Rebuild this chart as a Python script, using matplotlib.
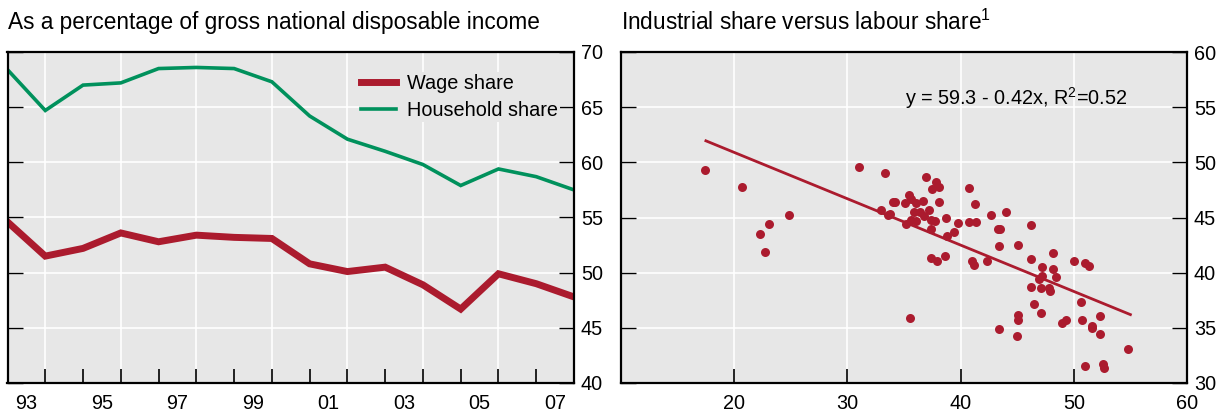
import matplotlib
matplotlib.use("Agg")
import matplotlib.pyplot as plt
import numpy as np

# ---------------- data ----------------
years = [1993, 1994, 1995, 1996, 1997, 1998, 1999, 2000, 2001, 2002, 2003,
         2004, 2005, 2006, 2007, 2008]
wage_share = [54.6, 51.5, 52.2, 53.6, 52.8, 53.4, 53.2, 53.1, 50.8, 50.1,
              50.5, 48.9, 46.7, 49.9, 49.0, 47.8]
household_share = [68.4, 64.7, 67.0, 67.2, 68.5, 68.6, 68.5, 67.3, 64.2,
                   62.1, 61.0, 59.8, 57.9, 59.4, 58.7, 57.5]
year_labels = ["93", "95", "97", "99", "01", "03", "05", "07"]

labour_share = [17.4, 20.7, 22.3, 23.1, 22.7, 24.8, 31.0, 33.3, 33.0, 33.8,
                33.6, 34.0, 34.2, 35.1, 35.4, 35.6, 35.2, 35.6, 35.9, 36.1,
                36.1, 36.4, 36.7, 36.8, 36.9, 37.2, 37.4, 37.7, 37.5, 37.8,
                38.1, 38.1, 37.4, 38.7, 38.8, 39.4, 39.8, 37.4, 37.9, 38.6,
                35.5, 40.7, 40.7, 41.4, 41.3, 42.7, 44.0, 43.3, 43.5, 43.4,
                41.0, 41.2, 42.3, 45.1, 46.2, 46.2, 47.2, 48.2, 48.2, 48.4,
                47.2, 46.9, 46.2, 47.1, 47.8, 47.9, 50.0, 51.0, 51.3, 46.5,
                47.1, 45.1, 45.1, 43.4, 45.0, 49.0, 49.3, 50.6, 50.7, 51.6,
                51.6, 52.3, 52.3, 54.8, 51.0, 52.6, 52.7]
industrial_share = [49.3, 47.8, 43.5, 44.4, 41.9, 45.2, 49.6, 49.0, 45.7, 45.3,
                    45.2, 46.4, 46.4, 46.3, 47.0, 46.7, 44.4, 44.8, 45.5, 46.3,
                    44.7, 45.5, 46.5, 45.1, 48.7, 45.7, 44.8, 44.7, 47.6, 48.2,
                    47.8, 46.4, 44.0, 45.0, 43.3, 43.7, 44.5, 41.3, 41.1, 41.5,
                    35.9, 47.7, 44.6, 44.6, 46.2, 45.2, 45.5, 44.0, 44.0, 42.4,
                    41.1, 40.7, 41.1, 42.5, 44.3, 41.2, 40.5, 41.8, 40.3, 39.6,
                    39.7, 39.4, 38.7, 38.6, 38.6, 38.3, 41.1, 40.9, 40.6, 37.2,
                    36.3, 36.2, 35.7, 34.9, 34.3, 35.4, 35.7, 37.3, 35.7, 35.2,
                    35.0, 36.1, 34.4, 33.1, 31.5, 31.7, 31.4]
fit_intercept = 59.3
fit_slope = -0.42
fit_x_range = [17.5, 55.0]

# ---------------- style ----------------
plt.rcParams['font.family'] = ['Liberation Sans', 'DejaVu Sans']
plt.rcParams['mathtext.fontset'] = 'custom'
plt.rcParams['mathtext.rm'] = 'Liberation Sans'
plt.rcParams['mathtext.it'] = 'Liberation Sans:italic'
plt.rcParams['mathtext.bf'] = 'Liberation Sans:bold'

RED = '#ab1b2e'
GREEN = '#00915c'
BG = '#e7e7e7'
FS = 14.3
TFS = 16.3

W, H = 1219, 412
fig = plt.figure(figsize=(W / 100, H / 100), dpi=100)

ax1 = fig.add_axes([7.5 / W, (H - 383) / H, 566.5 / W, 331 / H])
ax2 = fig.add_axes([621 / W, (H - 383) / H, 566 / W, 331 / H])

for ax in (ax1, ax2):
    ax.set_facecolor(BG)
    for s in ax.spines.values():
        s.set_linewidth(1.6)
        s.set_color('black')
        s.set_zorder(5)
    ax.yaxis.tick_right()
    ax.tick_params(axis='y', which='major', direction='in', left=True,
                   right=True, labelleft=False, labelright=True,
                   length=11, width=1, labelsize=FS, pad=5)
    ax.tick_params(axis='x', which='major', direction='in', bottom=True,
                   top=False, labelsize=FS, length=10, width=1.2, pad=8)

# ---------------- left panel ----------------
ax1.set_xlim(1993, 2008)
ax1.set_ylim(40, 70)
ax1.set_yticks(np.arange(40, 71, 5))
for yv in np.arange(45, 70, 5):
    ax1.axhline(yv, color='white', lw=1.2, zorder=0.5)
for xv in range(1994, 2008, 2):
    ax1.axvline(xv, color='white', lw=1.2, zorder=0.5)
ax1.set_xticks(range(1994, 2008))
ax1.set_xticklabels([])
ax1.set_xticks([int(l) + (1900 if int(l) > 50 else 2000) + 0.5 for l in year_labels],
               minor=True)
ax1.set_xticklabels(year_labels, minor=True)
ax1.tick_params(axis='x', which='minor', length=0, labelsize=FS, pad=8)

ax1.plot(years, wage_share, color=RED, lw=5, solid_joinstyle='miter',
         label='Wage share', zorder=3)
ax1.plot(years, household_share, color=GREEN, lw=2.6, solid_joinstyle='miter',
         label='Household share', zorder=3)
leg = ax1.legend(loc='upper left', bbox_to_anchor=(0.621, 0.94), frameon=True,
                 facecolor=BG, edgecolor='none', framealpha=1, fontsize=FS,
                 handlelength=1.75, handletextpad=0.55, labelspacing=0.4,
                 borderpad=0.1, borderaxespad=0)
leg.get_frame().set_linewidth(0)

# ---------------- right panel ----------------
ax2.set_xlim(10, 60)
ax2.set_ylim(30, 60)
ax2.set_yticks(np.arange(30, 61, 5))
ax2.set_xticks([20, 30, 40, 50, 60])
for yv in np.arange(35, 60, 5):
    ax2.axhline(yv, color='white', lw=1.2, zorder=0.5)
for xv in [20, 30, 40, 50]:
    ax2.axvline(xv, color='white', lw=1.2, zorder=0.5)

ax2.scatter(labour_share, industrial_share, s=42, color=RED, zorder=3,
            linewidths=0)
fx = np.array(fit_x_range)
ax2.plot(fx, fit_intercept + fit_slope * fx, color=RED, lw=2, zorder=2.5)
ax2.text(35.1, 55.8, 'y = 59.3 - 0.42x, R$^{\\mathrm{2}}$=0.52', fontsize=FS,
         ha='left', va='center')

# ---------------- titles ----------------
fig.text(8 / W, (H - 29.5) / H,
         'As a percentage of gross national disposable income',
         fontsize=TFS, ha='left', va='baseline')
fig.text(621 / W, (H - 29.5) / H,
         'Industrial share versus labour share$^{\\mathrm{1}}$',
         fontsize=TFS, ha='left', va='baseline')

fig.savefig('out.png', dpi=100)
